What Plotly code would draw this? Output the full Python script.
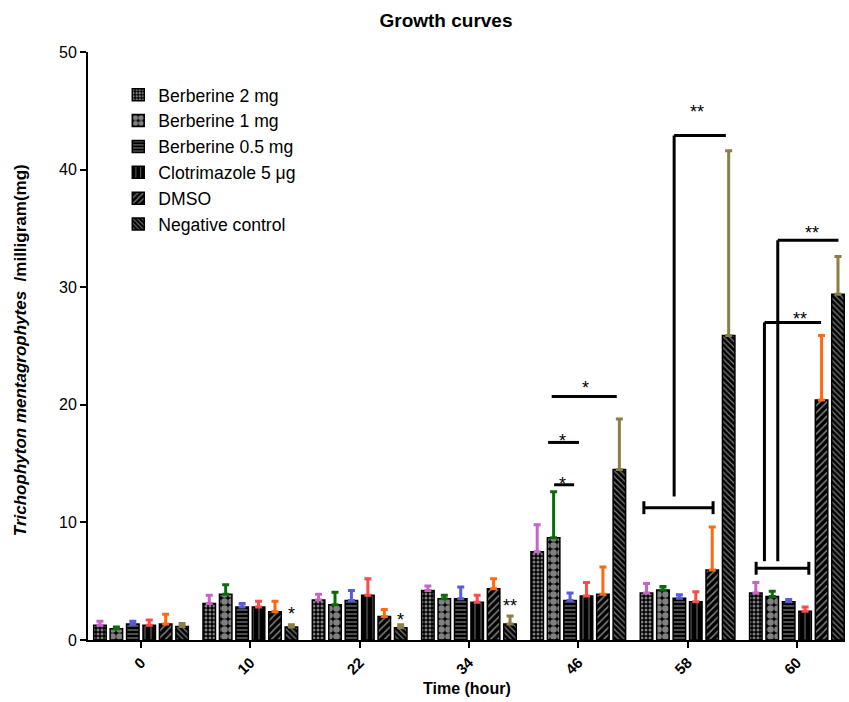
import plotly.graph_objects as go

# ---------------- data ----------------
times = ["0", "10", "22", "34", "46", "58", "60"]
series_names = ["Berberine 2 mg", "Berberine 1 mg", "Berberine 0.5 mg",
                "Clotrimazole 5 μg", "DMSO", "Negative control"]

berb2 = [1.25, 3.1, 3.4, 4.2, 7.5, 4.0, 4.0]
berb2_err = [0.35, 0.7, 0.5, 0.4, 2.3, 0.8, 0.9]
berb1 = [0.95, 3.9, 3.0, 3.5, 8.7, 4.25, 3.7]
berb1_err = [0.15, 0.8, 1.05, 0.3, 3.9, 0.3, 0.45]
berb05 = [1.35, 2.8, 3.35, 3.5, 3.35, 3.55, 3.25]
berb05_err = [0.25, 0.3, 0.85, 1.0, 0.65, 0.3, 0.2]
clotri = [1.25, 2.8, 3.8, 3.2, 3.75, 3.25, 2.45]
clotri_err = [0.45, 0.5, 1.4, 0.6, 1.15, 0.85, 0.35]
dmso = [1.35, 2.4, 2.0, 4.35, 3.9, 5.95, 20.4]
dmso_err = [0.85, 0.9, 0.6, 0.85, 2.3, 3.65, 5.5]
negctrl = [1.15, 1.1, 1.05, 1.35, 14.5, 25.9, 29.4]
negctrl_err = [0.25, 0.2, 0.25, 0.7, 4.3, 15.7, 3.2]

values = [berb2, berb1, berb05, clotri, dmso, negctrl]
errors = [berb2_err, berb1_err, berb05_err, clotri_err, dmso_err, negctrl_err]
err_colors = ["#C864C8", "#0B6B0B", "#5A5AE0", "#FF4A4A", "#FF6A10", "#8C7E45"]
patterns = [
    dict(shape=".", fgcolor="white", bgcolor="black", size=4, solidity=0.45),
    dict(shape=".", fgcolor="white", bgcolor="black", size=7, solidity=0.7),
    dict(shape="-", fgcolor="white", bgcolor="black", size=4, solidity=0.3),
    dict(shape="|", fgcolor="white", bgcolor="black", size=6, solidity=0.15),
    dict(shape="/", fgcolor="white", bgcolor="black", size=5, solidity=0.3),
    dict(shape="\\", fgcolor="white", bgcolor="black", size=4, solidity=0.3),
]

fig = go.Figure()
for name, v, e, ec, pat in zip(series_names, values, errors, err_colors, patterns):
    fig.add_trace(go.Bar(
        x=times, y=v, name=name,
        marker=dict(color="black", pattern=pat, line=dict(color="black", width=1.5)),
        error_y=dict(type="data", array=e, arrayminus=[0] * len(e), symmetric=False,
                     color=ec, thickness=3, width=3.5),
    ))

# ---------------- significance marks ----------------
LW = 3
lines = [
    # 46 h
    (3.757, 20.7, 4.352, 20.7),
    (3.724, 16.8, 4.007, 16.8),
    (3.779, 13.2, 3.962, 13.2),
    # 58 h
    (4.60, 11.25, 5.233, 11.25),
    (4.60, 10.7, 4.60, 11.8),
    (5.233, 10.7, 5.233, 11.8),
    (4.877, 12.2, 4.877, 42.9),
    (4.877, 42.9, 5.35, 42.9),
    # 60 h
    (5.627, 6.1, 6.109, 6.1),
    (5.627, 5.55, 5.627, 6.65),
    (6.109, 5.55, 6.109, 6.65),
    (5.703, 6.7, 5.703, 27.0),
    (5.703, 27.0, 6.221, 27.0),
    (5.825, 6.7, 5.825, 34.0),
    (5.825, 34.0, 6.38, 34.0),
]
for x0, y0, x1, y1 in lines:
    fig.add_shape(type="line", xref="x", yref="y", x0=x0, y0=y0, x1=x1, y1=y1,
                  line=dict(color="black", width=LW))

stars = [
    (1.375, 2.2, "*"),
    (2.375, 1.7, "*"),
    (3.375, 2.9, "**"),
    (4.07, 21.4, "*"),
    (3.86, 16.9, "*"),
    (3.86, 13.3, "*"),
    (5.084, 44.9, "**"),
    (6.03, 27.3, "**"),
    (6.142, 34.6, "**"),
]
for x, y, t in stars:
    fig.add_annotation(x=x, y=y, xref="x", yref="y", text=t, showarrow=False,
                       font=dict(family="Arial", size=18, color="black"),
                       xanchor="center", yanchor="middle")

# axis titles as annotations (paper coords relative to plot area)
fig.add_annotation(x=0.5007, y=-0.0833, xref="paper", yref="paper",
                   text="<b>Time (hour)</b>", showarrow=False,
                   font=dict(family="Arial", size=16, color="black"),
                   xanchor="center", yanchor="middle")
fig.add_annotation(x=-0.0898, y=0.493, xref="paper", yref="paper",
                   text="<b><i>Trichophyton mentagrophytes</i>  /milligram(mg)</b>",
                   textangle=-90, showarrow=False,
                   font=dict(family="Arial", size=17, color="black"),
                   xanchor="center", yanchor="middle")

fig.update_layout(
    width=849, height=702,
    margin=dict(l=88, r=4, t=52, b=62),
    paper_bgcolor="white", plot_bgcolor="white",
    barmode="group", bargap=0.098, bargroupgap=0.24,
    title=dict(text="<b>Growth curves</b>", x=446 / 849, xref="container", xanchor="center",
               y=1 - 20 / 702, yref="container", yanchor="middle",
               font=dict(family="Arial", size=19, color="black")),
    legend=dict(x=0.04, y=0.958, xanchor="left", yanchor="top",
                font=dict(family="Arial", size=17.6, color="black"),
                bgcolor="rgba(0,0,0,0)", tracegroupgap=0),
    showlegend=True,
    font=dict(family="Arial", color="black"),
)
fig.update_xaxes(
    type="category", categoryorder="array", categoryarray=times,
    range=[-0.485, 6.44], showline=True, linecolor="black", linewidth=2,
    ticks="outside", ticklen=6, tickwidth=2, tickcolor="black",
    tickangle=-45, tickfont=dict(family="Arial", size=15, color="black"),
    showgrid=False, zeroline=False, tickprefix="<b>", ticksuffix="</b>",
)
fig.update_yaxes(
    range=[0, 50], tickvals=[0, 10, 20, 30, 40, 50], showline=True,
    linecolor="black", linewidth=2, ticks="outside", ticklen=6, tickwidth=2,
    tickcolor="black", tickfont=dict(family="Arial", size=16, color="black"),
    showgrid=False, zeroline=False, tickprefix="<b>", ticksuffix="</b>",
)

fig.write_html("out.html")
